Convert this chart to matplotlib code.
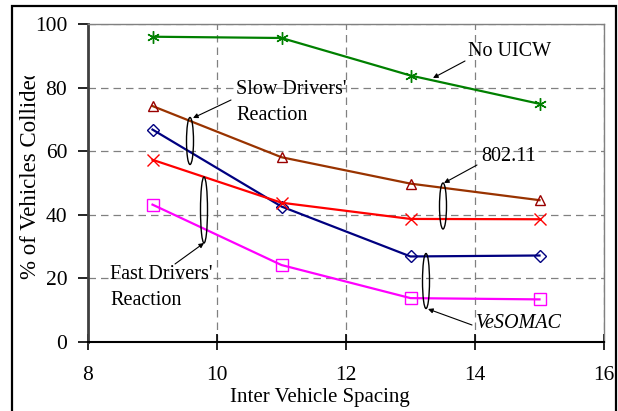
import numpy as np
import matplotlib
matplotlib.use("Agg")
import matplotlib.pyplot as plt
from matplotlib.patches import Ellipse, Rectangle
from matplotlib.transforms import Bbox

plt.rcParams['font.family'] = ['Liberation Serif', 'DejaVu Serif']

# data
spacing = [9, 11, 13, 15]
no_uicw = [96.0, 95.6, 83.8, 74.9]
slow_80211 = [74.2, 58.1, 49.8, 44.6]
slow_vesomac = [66.8, 42.6, 26.9, 27.2]
fast_80211 = [57.3, 43.8, 38.7, 38.6]
fast_vesomac = [43.2, 24.2, 13.8, 13.4]

x_ticks = [8, 10, 12, 14, 16]
y_ticks = [0, 20, 40, 60, 80, 100]

fig = plt.figure(figsize=(6.18, 4.11), dpi=100)
ax = fig.add_axes([88/618, 1-342/411, (604-88)/618, (342-24)/411])

ax.plot(spacing, no_uicw, color='#008000', lw=1.6, marker=(6, 2, 0), ms=9, mew=1.0, zorder=3)
ax.plot(spacing, slow_80211, color='#993300', lw=1.6, zorder=3)
ax.plot(spacing, slow_80211, ls='none', marker='^', ms=7, mfc='none', mec='#990000', mew=1.0, zorder=4)
ax.plot(spacing, slow_vesomac, color='#000080', lw=1.6, marker='D', ms=6, mfc='none', mec='#000080', mew=1.0, zorder=3)
ax.plot(spacing, fast_80211, color='#FF0000', lw=1.6, marker='x', ms=8, mew=1.0, zorder=3)
ax.plot(spacing, fast_vesomac, color='#FF00FF', lw=1.6, marker='s', ms=8, mfc='none', mec='#FF00FF', mew=1.0, zorder=3)

ax.set_xlim(8, 16)
ax.set_ylim(0, 100)
ax.set_xticks(x_ticks)
ax.set_yticks(y_ticks)
ax.tick_params(axis='both', labelsize=15.5, direction='out', length=7, width=1.2, color='black')
ax.tick_params(axis='y', pad=8)
ax.tick_params(axis='x', direction='inout', length=12, pad=11)
ax.grid(True, color='#808080', ls=(0, (6, 4)), lw=0.9)
ax.set_axisbelow(True)
for s in ['top', 'right']:
    ax.spines[s].set_color('#808080')
    ax.spines[s].set_linewidth(1.0)
ax.spines['left'].set_color('#404040')
ax.spines['left'].set_linewidth(2.0)
ax.spines['bottom'].set_color('black')
ax.spines['bottom'].set_linewidth(1.5)

fig.text(320/618, 1-397/411, 'Inter Vehicle Spacing', fontsize=15, ha='center', va='center')
ylab = fig.text(31/618, 1-279/411, '% of Vehicles Collided', fontsize=16.5, rotation=90,
                ha='center', va='bottom')
ylab.set_clip_box(Bbox.from_extents(0, 0, 618, 411-76))
ylab.set_clip_on(True)

# ellipses grouping the curves
def px(xp, yp):
    return ax.transData.inverted().transform((xp, 411-yp))

def ell(xp, yp, w, h):
    ax.add_patch(Ellipse(tuple(px(xp, yp)), w / 64.5, h / 3.18, fill=False, ec='black', lw=1.0, zorder=5))

ell(190, 141, 7, 47)
ell(204, 210, 7, 66)
ell(443, 206, 7, 46)
ell(426, 281, 7, 55)

arrow = dict(arrowstyle='-|>', color='black', lw=0.8, mutation_scale=7, shrinkA=0, shrinkB=0)
ax.annotate('', xy=px(193, 118), xytext=px(231, 100), arrowprops=arrow)
ax.annotate('', xy=px(204, 243), xytext=px(175, 264), arrowprops=arrow)
ax.annotate('', xy=px(444, 183), xytext=px(477, 165), arrowprops=arrow)
ax.annotate('', xy=px(428, 309), xytext=px(472, 325), arrowprops=arrow)
ax.annotate('', xy=px(433, 78), xytext=px(465, 61), arrowprops=arrow)

tx = dict(fontsize=14.5, va='center', ha='left')
ax.text(*px(236, 89), "Slow Drivers'", **tx)
ax.text(*px(236, 115), 'Reaction', **tx)
ax.text(*px(110, 274), "Fast Drivers'", **tx)
ax.text(*px(110, 300), 'Reaction', **tx)
ax.text(*px(468, 51), 'No UICW', **tx)
ax.text(*px(481, 156), '802.11', **tx)
ax.text(*px(476, 323), 'VeSOMAC', style='italic', **tx)

# outer frame
fig.patches.append(Rectangle((12/618, -0.05), (616-12)/618, 1.05-6/411, transform=fig.transFigure,
                             fill=False, ec='black', lw=1.6))

fig.savefig('out.png', dpi=100)
